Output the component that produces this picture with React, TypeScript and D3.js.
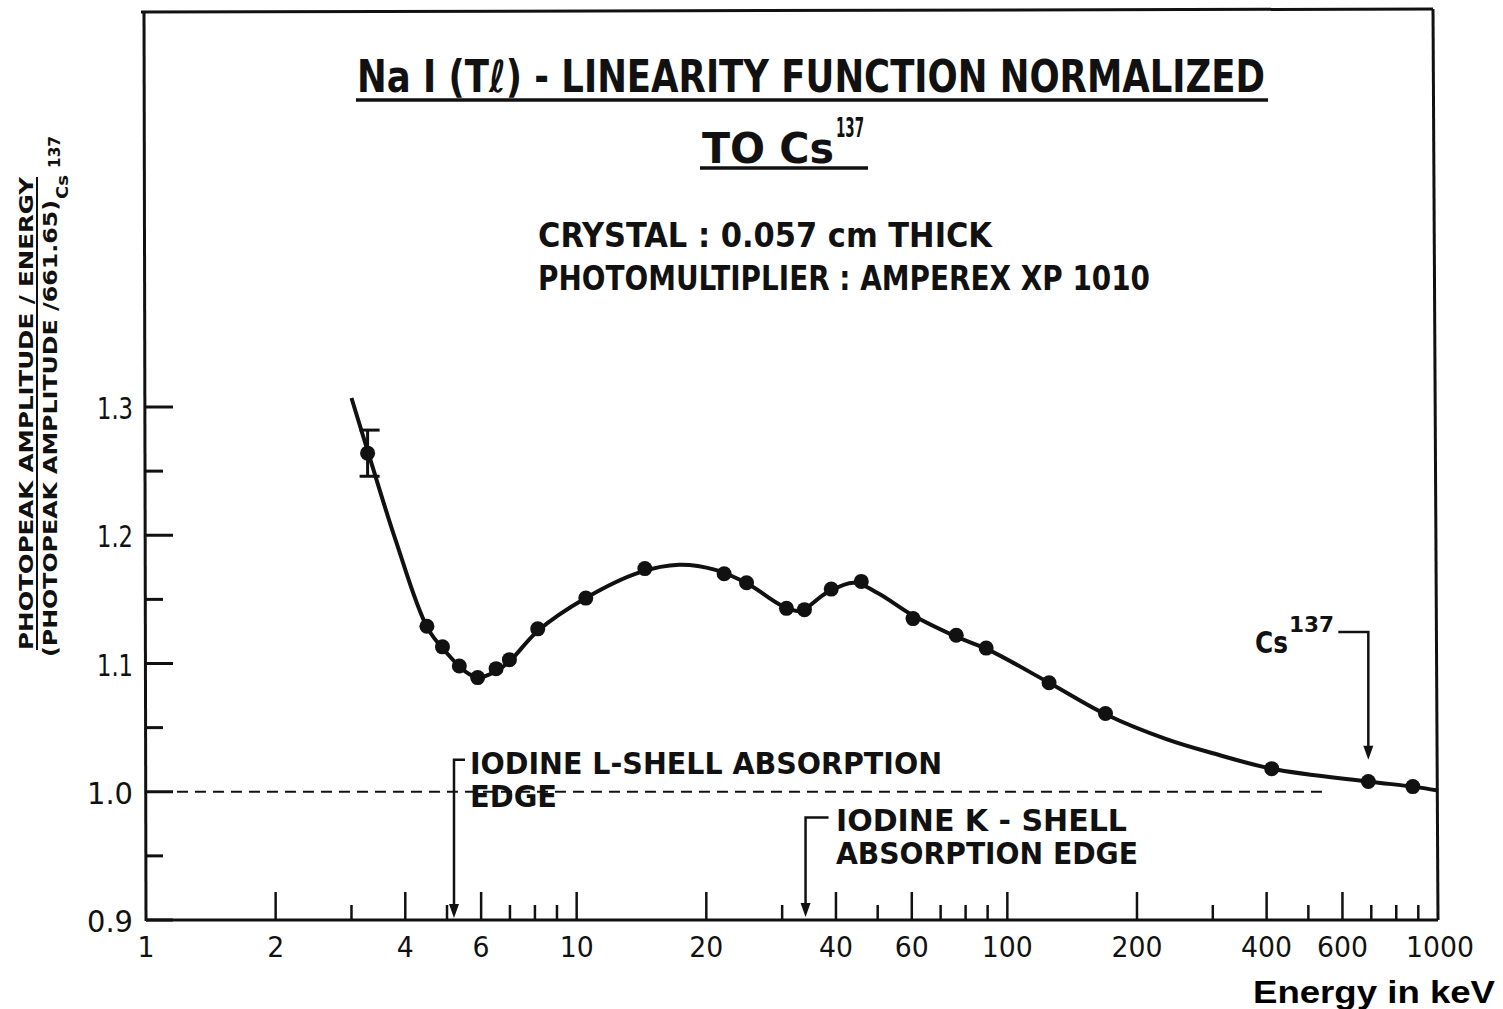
import React from 'react';
import * as d3 from 'd3';

// Fitted curve: energy (keV) and normalized amplitude
const curveEnergy = [3.0, 3.27, 3.8, 4.5, 5.0, 5.5, 5.9, 6.5, 7.0, 8.1, 10.5, 14, 17.3, 21, 25, 30, 33, 38, 44, 50, 60, 76, 90, 125, 170, 234, 300, 411, 689, 874, 1000];
const curveValue = [1.307, 1.266, 1.196, 1.128, 1.108, 1.094, 1.089, 1.094, 1.102, 1.125, 1.151, 1.171, 1.177, 1.173, 1.162, 1.145, 1.141, 1.155, 1.163, 1.155, 1.138, 1.121, 1.111, 1.085, 1.060, 1.041, 1.030, 1.018, 1.008, 1.004, 1.001];

// Measured points
const pointEnergy = [3.27, 4.49, 4.88, 5.34, 5.89, 6.5, 6.98, 8.12, 10.5, 14.4, 22.0, 24.8, 30.7, 33.8, 39.0, 45.8, 60.4, 76.1, 89.3, 125, 169, 411, 689, 874];
const pointValue = [1.264, 1.129, 1.113, 1.098, 1.089, 1.096, 1.103, 1.127, 1.151, 1.174, 1.170, 1.163, 1.143, 1.142, 1.158, 1.164, 1.135, 1.122, 1.112, 1.085, 1.061, 1.018, 1.008, 1.004];

// Error bar on the lowest-energy point
const errorEnergy = [3.27];
const errorLow = [1.246];
const errorHigh = [1.282];

// Axis ticks
const xMajorTicks = [1, 2, 4, 6, 10, 20, 40, 60, 100, 200, 400, 600, 1000];
const xTickLabels = ['1', '2', '4', '6', '10', '20', '40', '60', '100', '200', '400', '600', '1000'];
const yMajorTicks = [0.9, 1.0, 1.1, 1.2, 1.3];
const yTickLabels = ['0.9', '1.0', '1.1', '1.2', '1.3'];
const yMinorTicks = [0.95, 1.05, 1.15, 1.25];

// Annotation energies
const lShellEdge = 5.19;
const kShellEdge = 34;
const csLine = 689;
const refLineRange = [1.18, 552];

const FONT = "'DejaVu Sans Condensed', 'DejaVu Sans', sans-serif";

export default function App() {
  const x = d3.scaleLog().domain([1, 1000]).range([146, 1438]);
  const y = d3.scaleLinear().domain([0.9, 1.3]).range([920, 407]);

  const curveData: [number, number][] = curveEnergy.map((e, i) => [e, curveValue[i]]);
  const line = d3
    .line<[number, number]>()
    .x((d) => x(d[0]))
    .y((d) => y(d[1]))
    .curve(d3.curveCatmullRom.alpha(0.5));

  const minorX: number[] = [];
  [1, 10, 100].forEach((p) => {
    for (let k = 2; k <= 9; k++) {
      const v = k * p;
      if (!xMajorTicks.includes(v)) minorX.push(v);
    }
  });

  const arrowHead = (cx: number, tipY: number) =>
    `M${cx - 5},${tipY - 14}L${cx + 5},${tipY - 14}L${cx},${tipY}Z`;

  const txt = (
    s: string,
    px: number,
    py: number,
    size: number,
    len?: number,
    anchor: string = 'start',
    extra: any = {}
  ) => (
    <text
      x={px}
      y={py}
      fontSize={size}
      fontFamily={FONT}
      fontWeight="bold"
      textAnchor={anchor}
      fill="#111"
      {...(len ? { textLength: len, lengthAdjust: 'spacingAndGlyphs' } : {})}
      {...extra}
    >
      {s}
    </text>
  );

  const xL = x(lShellEdge);
  const xK = x(kShellEdge);
  const xCs = x(csLine);

  return (
    <svg
      width={1503}
      height={1009}
      style={{ position: 'absolute', left: 0, top: 0, background: '#fff' }}
    >
      <rect x={0} y={0} width={1503} height={1009} fill="#fff" />
      {/* frame */}
      <g stroke="#111" strokeWidth={3} fill="none">
        <line x1={141} y1={12} x2={1433} y2={9} />
        <line x1={1433} y1={9} x2={1438} y2={920} />
        <line x1={144} y1={12} x2={146} y2={921} />
        <line x1={146} y1={920} x2={1438} y2={920} />
      </g>

      {/* y ticks */}
      <g stroke="#111" strokeWidth={3}>
        {yMajorTicks.map((v) => (
          <line key={'ym' + v} x1={x(1)} x2={x(1) + 27} y1={y(v)} y2={y(v)} />
        ))}
        {yMinorTicks.map((v) => (
          <line key={'yn' + v} x1={x(1)} x2={x(1) + 17} y1={y(v)} y2={y(v)} />
        ))}
      </g>
      {yMajorTicks.map((v, i) =>
        txt(yTickLabels[i], 133, y(v) + 12, 30, v === 1.3 || v === 1.2 || v === 1.1 ? 36 : 46, 'end', { key: 'yl' + v, fontWeight: 'normal' })
      )}

      {/* x ticks */}
      <g stroke="#111" strokeWidth={2.5}>
        {xMajorTicks
          .filter((v) => v !== 1 && v !== 1000)
          .map((v) => (
            <line key={'xm' + v} x1={x(v)} x2={x(v)} y1={920} y2={892} />
          ))}
        {minorX.map((v) => (
          <line key={'xn' + v} x1={x(v)} x2={x(v)} y1={920} y2={905} />
        ))}
      </g>
      {xMajorTicks.map((v, i) =>
        txt(xTickLabels[i], x(v) + (v === 1000 ? 2 : 0), 957, 28, xTickLabels[i].length * 17, 'middle', { key: 'xl' + v, fontWeight: 'normal' })
      )}

      {/* reference line at 1.0 */}
      <line
        x1={x(refLineRange[0])}
        x2={x(refLineRange[1])}
        y1={y(1.0)}
        y2={y(1.0)}
        stroke="#111"
        strokeWidth={2}
        strokeDasharray="11 7"
      />

      {/* curve */}
      <path d={line(curveData) || ''} fill="none" stroke="#111" strokeWidth={4} />

      {/* error bar */}
      <g stroke="#111" strokeWidth={3}>
        {errorEnergy.map((e, i) => (
          <g key={'eb' + i}>
            <line x1={x(e)} x2={x(e)} y1={y(errorLow[i])} y2={y(errorHigh[i])} />
            <line x1={x(e) - 8} x2={x(e) + 12} y1={y(errorHigh[i])} y2={y(errorHigh[i])} />
            <line x1={x(e) - 8} x2={x(e) + 12} y1={y(errorLow[i])} y2={y(errorLow[i])} />
          </g>
        ))}
      </g>

      {/* points */}
      {pointEnergy.map((e, i) => (
        <circle key={'p' + i} cx={x(e)} cy={y(pointValue[i])} r={7.5} fill="#111" />
      ))}

      {/* L-shell annotation */}
      <g stroke="#111" strokeWidth={2.5} fill="none">
        <polyline points={`${xL + 11},${y(1.025)} ${xL},${y(1.025)} ${xL},${y(0.9) - 10}`} />
      </g>
      <path d={arrowHead(xL, y(0.9) - 2)} fill="#111" />
      {txt('IODINE L-SHELL  ABSORPTION', 470, 774, 31, 472)}
      {txt('EDGE', 470, 807, 31, 87)}

      {/* K-shell annotation */}
      <g stroke="#111" strokeWidth={2.5} fill="none">
        <polyline points={`${xK + 23},${y(0.98)} ${xK},${y(0.98)} ${xK},${y(0.9) - 10}`} />
      </g>
      <path d={arrowHead(xK, y(0.9) - 3)} fill="#111" />
      {txt('IODINE  K - SHELL', 836, 831, 31, 291)}
      {txt('ABSORPTION EDGE', 836, 864, 31, 302)}

      {/* Cs137 annotation */}
      <g stroke="#111" strokeWidth={2.5} fill="none">
        <polyline points={`${xCs - 30},${y(1.1246)} ${xCs},${y(1.1246)} ${xCs},${y(1.03)}`} />
      </g>
      <path d={arrowHead(xCs, y(1.025))} fill="#111" />
      {txt('Cs', 1255, 653, 30, 33)}
      {txt('137', 1289, 632, 22, 45)}

      {/* Title */}
      {txt('Na I (Tℓ) - LINEARITY  FUNCTION NORMALIZED', 357, 92, 44, 908)}
      <line x1={356} x2={1268} y1={100} y2={100} stroke="#111" strokeWidth={3.5} />
      {txt('TO  Cs', 702, 163, 42, 132)}
      {txt('137', 836, 137, 26, 28)}
      <line x1={700} x2={868} y1={168} y2={168} stroke="#111" strokeWidth={3.5} />
      {txt('CRYSTAL : 0.057 cm  THICK', 538, 247, 34, 454)}
      {txt('PHOTOMULTIPLIER : AMPEREX  XP 1010', 538, 290, 34, 612)}

      {/* Y axis label */}
      <g transform="rotate(-90)">
        {txt('PHOTOPEAK AMPLITUDE / ENERGY', -650, 33, 19, 473)}
        <line x1={-650} x2={-177} y1={37} y2={37} stroke="#111" strokeWidth={2} />
        {txt('(PHOTOPEAK AMPLITUDE /661.65)', -657, 57, 19, 457)}
        {txt('Cs', -199, 68, 15, 24)}
        {txt('137', -168, 60, 15, 32)}
      </g>

      {/* X axis title */}
      <text
        x={1495}
        y={1003}
        fontSize={31}
        fontFamily="'Liberation Sans', Arial, sans-serif"
        fontWeight="bold"
        textAnchor="end"
        fill="#000"
        textLength={242}
        lengthAdjust="spacingAndGlyphs"
      >
        Energy in keV
      </text>
    </svg>
  );
}
